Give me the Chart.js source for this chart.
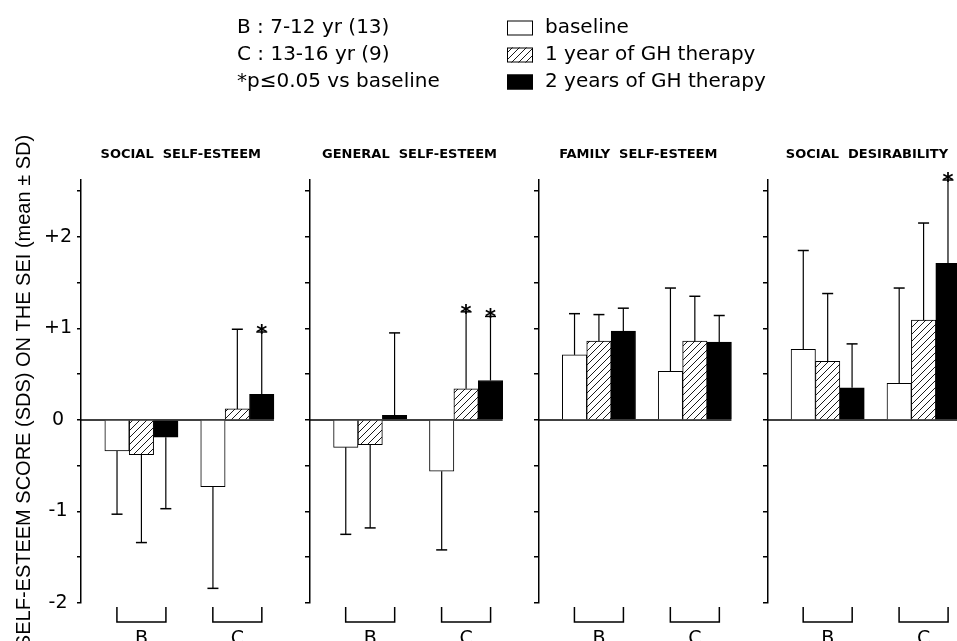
<!DOCTYPE html>
<html>
<head>
<meta charset="utf-8">
<script src="https://cdn.jsdelivr.net/npm/chart.js@4.4.1/dist/chart.umd.min.js"></script>
<style>
  html, body { margin: 0; padding: 0; background: #fff; overflow: hidden; }
  #chart { display: block; }
</style>
</head>
<body>
<canvas id="chart" width="996" height="660"></canvas>
<script>
// panels and groups
const panelTitles = ['SOCIAL  SELF-ESTEEM', 'GENERAL  SELF-ESTEEM', 'FAMILY  SELF-ESTEEM', 'SOCIAL  DESIRABILITY'];
const groupLabels = ['B', 'C'];
const seriesLabels = ['baseline', '1 year of GH therapy', '2 years of GH therapy'];
const noteLines = ['B : 7-12 yr (13)', 'C : 13-16 yr (9)', '*p\u22640.05 vs baseline'];

// values in order: social B, social C, general B, general C, family B, family C, desirability B, desirability C
const baselineMean = [-0.34, -0.73, -0.30, -0.56, 0.71, 0.53, 0.77, 0.40];
const baselineSD   = [0.69, 1.11, 0.95, 0.86, 0.45, 0.91, 1.08, 1.04];
const year1Mean    = [-0.38, 0.12, -0.27, 0.34, 0.86, 0.86, 0.64, 1.09];
const year1SD      = [0.96, 0.87, 0.91, 0.84, 0.29, 0.49, 0.74, 1.06];
const year2Mean    = [-0.19, 0.28, 0.05, 0.43, 0.97, 0.85, 0.35, 1.71];
const year2SD      = [0.78, 0.68, 0.90, 0.70, 0.25, 0.29, 0.48, 0.91];
const baselineStar = [false, false, false, false, false, false, false, false];
const year1Star    = [false, false, false, true, false, false, false, false];
const year2Star    = [false, true, false, true, false, false, false, true];

const yTicks = [-2, -1.5, -1, -0.5, 0, 0.5, 1, 1.5, 2, 2.5];

// layout along x (axis units)
const PANEL_SPAN = 2.385;
const GROUP_OFFSET = [0.63, 1.63];
const TITLE_OFFSET = 1.04;

function xAt(i) {
  return Math.floor(i / 2) * PANEL_SPAN + GROUP_OFFSET[i % 2];
}
const groupCenters = baselineMean.map((v, i) => xAt(i));

const canvas = document.getElementById('chart');
const ctx2d = canvas.getContext('2d');

function makeHatch() {
  const c = document.createElement('canvas');
  c.width = 7; c.height = 7;
  const g = c.getContext('2d');
  g.fillStyle = '#fff';
  g.fillRect(0, 0, 7, 7);
  g.strokeStyle = '#000';
  g.lineWidth = 0.9;
  g.beginPath();
  g.moveTo(-1, 8); g.lineTo(8, -1);
  g.moveTo(-1, 1); g.lineTo(1, -1);
  g.moveTo(6, 8); g.lineTo(8, 6);
  g.stroke();
  return ctx2d.createPattern(c, 'repeat');
}
const hatch = makeHatch();

const seriesMeans = [baselineMean, year1Mean, year2Mean];
const seriesSD = [baselineSD, year1SD, year2SD];
const seriesStar = [baselineStar, year1Star, year2Star];
const seriesFill = ['#ffffff', hatch, '#000000'];

const yCommon = {
  type: 'linear',
  axis: 'y',
  min: -2,
  max: 2.62,
  afterBuildTicks: s => { s.ticks = yTicks.map(v => ({ value: v })); },
  grid: { drawOnChartArea: false, drawTicks: true, tickLength: 4, color: '#000', lineWidth: 1.5 },
  border: { display: true, color: '#000', width: 1.5 }
};

const decorations = {
  id: 'decorations',
  beforeDatasetsDraw(chart) {
    const { ctx, scales: { x, y } } = chart;
    const y0 = y.getPixelForValue(0);
    const lastMeta = chart.getDatasetMeta(chart.data.datasets.length - 1);
    ctx.save();
    ctx.strokeStyle = '#000';
    ctx.lineWidth = 1.5;
    panelTitles.forEach((t, p) => {
      const left = x.getPixelForValue(p * PANEL_SPAN);
      const bar = lastMeta.data[p * 2 + 1];
      ctx.beginPath();
      ctx.moveTo(left, y0);
      ctx.lineTo(bar.x + bar.width / 2, y0);
      ctx.stroke();
    });
    ctx.restore();
  },
  afterDatasetsDraw(chart) {
    const { ctx, scales: { y } } = chart;
    ctx.save();
    ctx.strokeStyle = '#000';
    ctx.fillStyle = '#000';
    ctx.font = 'bold 21px "DejaVu Sans"';
    ctx.textAlign = 'center';
    ctx.textBaseline = 'alphabetic';
    chart.data.datasets.forEach((ds, s) => {
      chart.getDatasetMeta(s).data.forEach((bar, i) => {
        const m = ds.data[i].y;
        const end = m >= 0 ? m + ds.sd[i] : m - ds.sd[i];
        const yEnd = y.getPixelForValue(end);
        ctx.lineWidth = 1.2;
        ctx.beginPath();
        ctx.moveTo(bar.x, bar.y);
        ctx.lineTo(bar.x, yEnd);
        ctx.stroke();
        ctx.lineWidth = 1.5;
        ctx.beginPath();
        ctx.moveTo(bar.x - 5.5, yEnd);
        ctx.lineTo(bar.x + 5.5, yEnd);
        ctx.stroke();
        if (ds.star[i]) {
          ctx.fillText('*', bar.x, yEnd + 8);
        }
      });
    });
    ctx.restore();
  },
  afterDraw(chart) {
    const { ctx, chartArea, scales: { x } } = chart;
    ctx.save();
    ctx.fillStyle = '#000';
    ctx.strokeStyle = '#000';

    // panel titles
    ctx.font = 'bold 13px "DejaVu Sans"';
    ctx.textAlign = 'center';
    ctx.textBaseline = 'middle';
    panelTitles.forEach((t, p) => {
      ctx.fillText(t, x.getPixelForValue(p * PANEL_SPAN + TITLE_OFFSET), 155);
    });

    // group brackets under each cluster
    ctx.lineWidth = 1.5;
    const mid = chart.getDatasetMeta(1);
    mid.data.forEach(bar => {
      const top = chartArea.bottom + 4, bot = chartArea.bottom + 19;
      ctx.beginPath();
      ctx.moveTo(bar.x - 24.5, top);
      ctx.lineTo(bar.x - 24.5, bot);
      ctx.lineTo(bar.x + 24.5, bot);
      ctx.lineTo(bar.x + 24.5, top);
      ctx.stroke();
    });

    // notes and legend
    const rows = [28, 55, 82];
    ctx.font = '20px "DejaVu Sans"';
    ctx.textAlign = 'left';
    noteLines.forEach((t, r) => ctx.fillText(t, 237, rows[r]));
    chart.data.datasets.forEach((ds, s) => {
      ctx.fillStyle = ds.backgroundColor;
      ctx.fillRect(507, rows[s] - 7.5, 26, 15);
      ctx.lineWidth = 1;
      ctx.strokeRect(507.5, rows[s] - 7, 25, 14);
      ctx.fillStyle = '#000';
      ctx.fillText(ds.label, 545, rows[s]);
    });
    ctx.restore();
  }
};

new Chart(canvas, {
  type: 'bar',
  data: {
    datasets: seriesLabels.map((label, s) => ({
      label: label,
      data: seriesMeans[s].map((v, i) => ({ x: xAt(i), y: v })),
      sd: seriesSD[s],
      star: seriesStar[s],
      backgroundColor: seriesFill[s],
      borderColor: '#000',
      borderWidth: 1,
      barThickness: 24.4,
      yAxisID: 'y'
    }))
  },
  options: {
    responsive: false,
    animation: false,
    devicePixelRatio: 1,
    layout: { padding: { top: 180, left: 0, right: 0, bottom: 0 } },
    plugins: {
      legend: { display: false },
      title: { display: false },
      tooltip: { enabled: false }
    },
    scales: {
      x: {
        type: 'linear',
        min: 0,
        max: 4 * PANEL_SPAN,
        offset: false,
        afterBuildTicks: s => { s.ticks = groupCenters.map(v => ({ value: v })); },
        afterFit: s => { s.height = 57; },
        grid: { display: false, drawTicks: false },
        border: { display: false },
        ticks: {
          autoSkip: false,
          maxRotation: 0,
          padding: 25,
          color: '#000',
          font: { family: 'DejaVu Sans', size: 19 },
          callback: (v, i) => groupLabels[i % 2]
        }
      },
      y: Object.assign({}, yCommon, {
        position: 'left',
        afterFit: s => { s.width = 81; },
        ticks: {
          autoSkip: false,
          crossAlign: 'center',
          padding: 5,
          color: '#000',
          font: { family: 'DejaVu Sans', size: 19 },
          callback: v => Number.isInteger(v) ? (v > 0 ? '+' + v : String(v)) : ''
        },
        title: {
          display: true,
          text: 'SELF-ESTEEM SCORE (SDS) ON THE SEI (mean \u00b1 SD)',
          color: '#000',
          font: { family: 'Liberation Sans', size: 20 },
          padding: { top: 12, bottom: 0 }
        }
      }),
      y2: Object.assign({}, yCommon, { position: { x: PANEL_SPAN }, ticks: { display: false, autoSkip: false } }),
      y3: Object.assign({}, yCommon, { position: { x: 2 * PANEL_SPAN }, ticks: { display: false, autoSkip: false } }),
      y4: Object.assign({}, yCommon, { position: { x: 3 * PANEL_SPAN }, ticks: { display: false, autoSkip: false } })
    }
  },
  plugins: [decorations]
});
</script>
</body>
</html>
